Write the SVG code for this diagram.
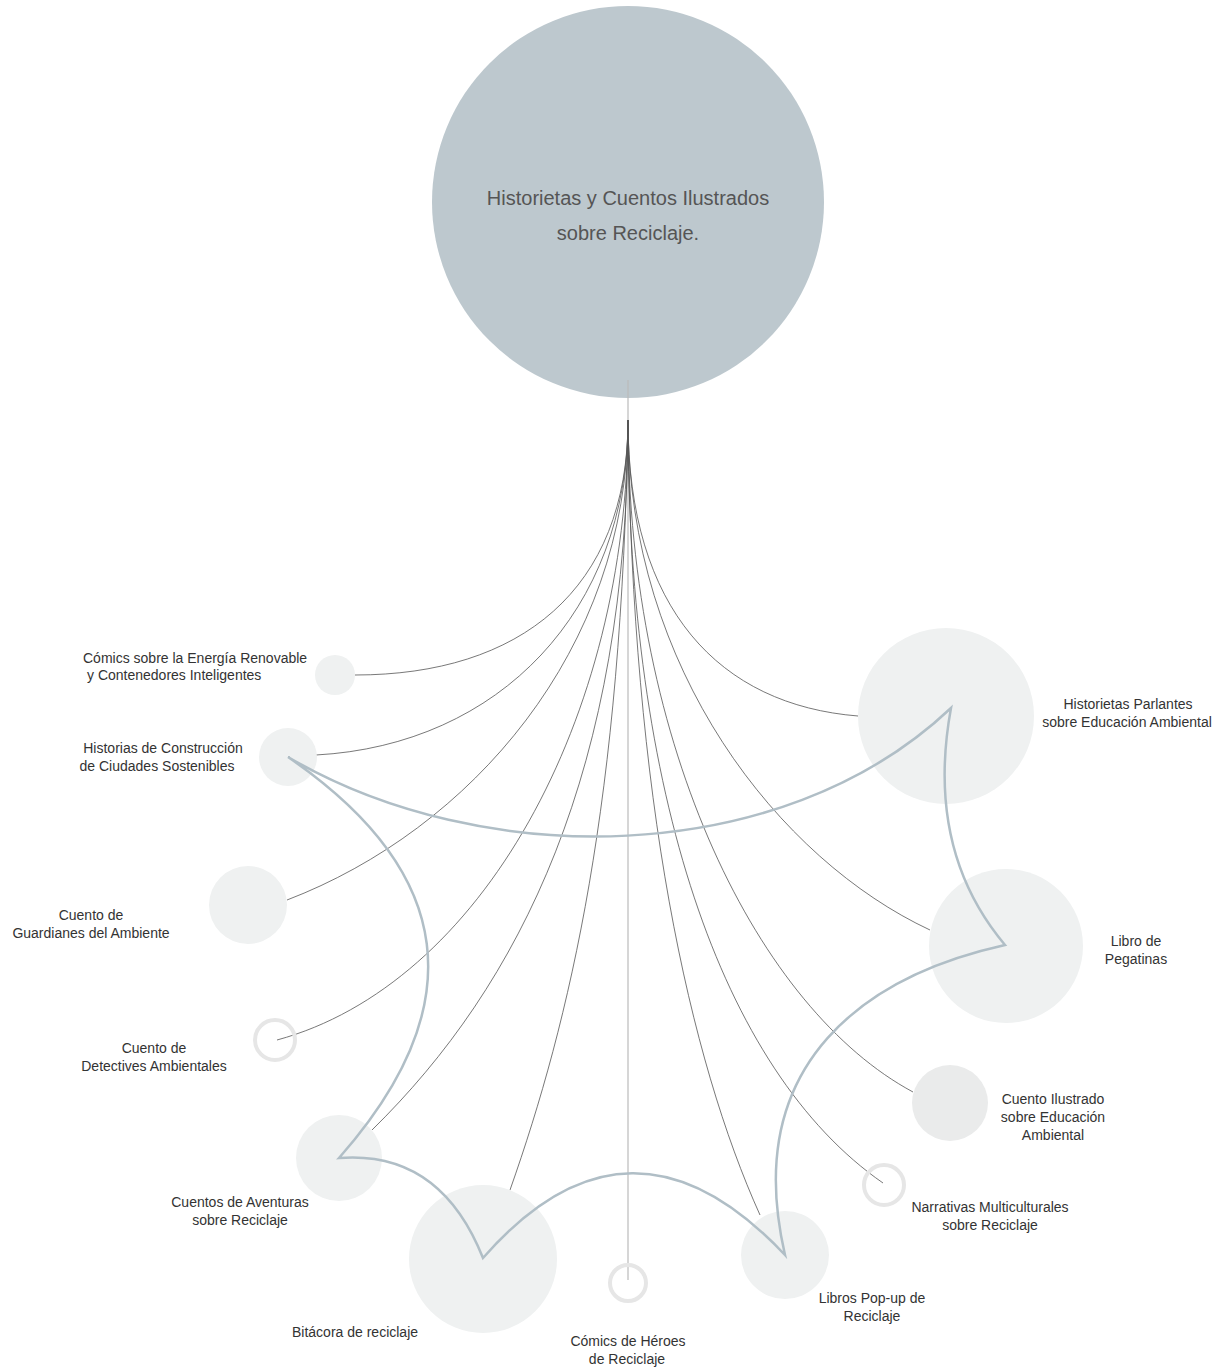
<svg xmlns="http://www.w3.org/2000/svg" width="1226" height="1368" viewBox="0 0 1226 1368">
<style>
.lbl{font-family:"Liberation Sans",Arial,sans-serif;font-size:14px;fill:#333;text-anchor:middle}
.title{font-family:"Liberation Sans",Arial,sans-serif;font-size:20px;fill:#555;text-anchor:middle}
.node{fill:#eff1f1}
.ring{fill:none;stroke:#e6e6e6;stroke-width:4}
.link{fill:none;stroke:#555;stroke-width:0.8}
.flow{fill:none;stroke:#b0bec6;stroke-width:2.5;stroke-linejoin:miter}
</style>
<rect width="1226" height="1368" fill="#fff"/>
<g id="root">
<circle cx="628" cy="202" r="196" fill="#bdc8ce"/>
<text class="title" x="628" y="205">Historietas y Cuentos Ilustrados</text>
<text class="title" x="628" y="240">sobre Reciclaje.</text>
</g>
<g id="connectors">
<line x1="628" y1="380" x2="628" y2="1280" stroke="#bbb" stroke-width="1.2"/>
<path class="link" d="M628,420 C628,590 520,675 355,675"/>
<path class="link" d="M628,420 C628,610 500,745 316,755"/>
<path class="link" d="M628,420 C628,650 470,830 287,900"/>
<path class="link" d="M628,420 C628,720 480,985 277,1040"/>
<path class="link" d="M628,420 C628,770 520,985 372,1130"/>
<path class="link" d="M628,420 C622,800 570,1020 510,1190"/>
<path class="link" d="M628,420 C632,800 690,1060 760,1215"/>
<path class="link" d="M628,420 C628,790 720,1070 883,1183"/>
<path class="link" d="M628,420 C628,750 760,1010 913,1092"/>
<path class="link" d="M628,420 C628,670 780,860 930,930"/>
<path class="link" d="M628,420 C628,610 720,705 858,716"/>
</g>
<g id="n1"><circle class="node" cx="335" cy="675" r="20"/>
<text class="lbl" style="text-anchor:start" x="83" y="663">Cómics sobre la Energía Renovable</text>
<text class="lbl" style="text-anchor:start" x="87" y="680">y Contenedores Inteligentes</text></g>
<g id="n2"><circle class="node" cx="288" cy="757" r="29"/>
<text class="lbl" x="163" y="753">Historias de Construcción</text>
<text class="lbl" x="157" y="771">de Ciudades Sostenibles</text></g>
<g id="n3"><circle class="node" cx="248" cy="905" r="39"/>
<text class="lbl" x="91" y="920">Cuento de</text>
<text class="lbl" x="91" y="938">Guardianes del Ambiente</text></g>
<g id="n4"><circle class="ring" cx="275" cy="1040" r="20"/>
<text class="lbl" x="154" y="1053">Cuento de</text>
<text class="lbl" x="154" y="1071">Detectives Ambientales</text></g>
<g id="n5"><circle class="node" cx="339" cy="1158" r="43"/>
<text class="lbl" x="240" y="1207">Cuentos de Aventuras</text>
<text class="lbl" x="240" y="1225">sobre Reciclaje</text></g>
<g id="n6"><circle class="node" cx="483" cy="1259" r="74"/>
<text class="lbl" x="355" y="1337">Bitácora de reciclaje</text></g>
<g id="n7"><circle class="ring" cx="628" cy="1283" r="18"/>
<text class="lbl" x="628" y="1346">Cómics de Héroes</text>
<text class="lbl" x="627" y="1364">de Reciclaje</text></g>
<g id="n8"><circle class="node" cx="785" cy="1255" r="44"/>
<text class="lbl" x="872" y="1303">Libros Pop-up de</text>
<text class="lbl" x="872" y="1321">Reciclaje</text></g>
<g id="n9"><circle class="ring" cx="884" cy="1185" r="20"/>
<text class="lbl" x="990" y="1212">Narrativas Multiculturales</text>
<text class="lbl" x="990" y="1230">sobre Reciclaje</text></g>
<g id="n10"><circle cx="950" cy="1103" r="38" fill="#eaebeb"/>
<text class="lbl" x="1053" y="1104">Cuento Ilustrado</text>
<text class="lbl" x="1053" y="1122">sobre Educación</text>
<text class="lbl" x="1053" y="1140">Ambiental</text></g>
<g id="n11"><circle class="node" cx="1006" cy="946" r="77"/>
<text class="lbl" x="1136" y="946">Libro de</text>
<text class="lbl" x="1136" y="964">Pegatinas</text></g>
<g id="n12"><circle class="node" cx="946" cy="716" r="88"/>
<text class="lbl" x="1128" y="709">Historietas Parlantes</text>
<text class="lbl" x="1127" y="727">sobre Educación Ambiental</text></g>
<g id="flows">
<path class="flow" d="M288,757 C480,870 780,870 951,708 Q925,850 1005,945 C870,975 740,1060 785,1255 Q630,1090 483,1258 Q440,1150 339,1158 Q540,930 288,757"/>
</g>
</svg>
